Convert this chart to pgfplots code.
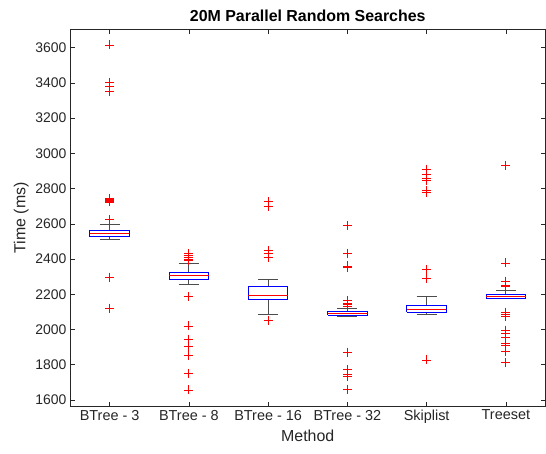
\documentclass[border=0pt]{standalone}
\usepackage{pgfplots}
\pgfplotsset{compat=1.18}
\usepackage{fontspec}
\setmainfont{Liberation Sans}
\definecolor{axgray}{rgb}{0.15,0.15,0.15}
\definecolor{mblue}{rgb}{0,0,1}
\definecolor{mred}{rgb}{1,0,0}
\pgfplotsset{
  mout/.style={color=mred, only marks, mark=+, mark size=4.5bp, mark options={draw=mred, solid, line width=0.8pt}},
}
\begin{document}
\begin{tikzpicture}
\begin{axis}[
  at={(0,0)}, anchor=south west,
  scale only axis,
  width=475.5bp, height=377.2bp,
  xmin=0.5, xmax=6.5,
  ymin=1563, ymax=3704,
  xtick={1,2,3,4,5,6},
  xticklabels={BTree - 3,BTree - 8,BTree - 16,BTree - 32,Skiplist,Treeset},
  ytick={1600,1800,...,3600},
  tick pos=both,
  tick align=inside,
  major tick length=5bp,
  axis line style={axgray, line width=0.5pt},
  every tick/.style={axgray, line width=0.5pt},
  tick label style={font=\fontsize{14}{16}\selectfont, text=axgray},
  xticklabel style={font=\fontsize{14.5}{16}\selectfont},
  /pgf/number format/assume math mode=true,
  /pgf/number format/1000 sep={},
  xlabel={Method},
  ylabel={Time (ms)},
  label style={font=\fontsize{16}{18}\selectfont, text=axgray},
  title={\textbf{20M Parallel Random Searches}},
  title style={font=\fontsize{16}{18}\selectfont, yshift=-2bp},
  unbounded coords=jump,
]
% whiskers and caps
\addplot[black!70, line width=0.8pt, mark=none] coordinates {
 (1,2561) (1,2599) (nan,nan) (0.875,2599) (1.125,2599) (nan,nan) (1,2527) (1,2510) (nan,nan) (0.875,2510) (1.125,2510) (nan,nan)
 (2,2322) (2,2373) (nan,nan) (1.875,2373) (2.125,2373) (nan,nan) (2,2286) (2,2257) (nan,nan) (1.875,2257) (2.125,2257) (nan,nan)
 (3,2242) (3,2287) (nan,nan) (2.875,2287) (3.125,2287) (nan,nan) (3,2172) (3,2085) (nan,nan) (2.875,2085) (3.125,2085) (nan,nan)
 (4,2100) (4,2119) (nan,nan) (3.875,2119) (4.125,2119) (nan,nan) (4,2081) (4,2077) (nan,nan) (3.875,2077) (4.125,2077) (nan,nan)
 (5,2138) (5,2187) (nan,nan) (4.875,2187) (5.125,2187) (nan,nan) (5,2098) (5,2085) (nan,nan) (4.875,2085) (5.125,2085) (nan,nan)
 (6,2200) (6,2221) (nan,nan) (5.875,2221) (6.125,2221) (nan,nan) (6,2178) (6,2174) (nan,nan) (5.875,2174) (6.125,2174)
};
% boxes (lower quartile, upper quartile)
\addplot[mblue, line width=1pt, mark=none] coordinates {
 (0.75,2527) (1.25,2527) (1.25,2561) (0.75,2561) (0.75,2527) (nan,nan)
 (1.75,2286) (2.25,2286) (2.25,2322) (1.75,2322) (1.75,2286) (nan,nan)
 (2.75,2172) (3.25,2172) (3.25,2242) (2.75,2242) (2.75,2172) (nan,nan)
 (3.75,2081) (4.25,2081) (4.25,2100) (3.75,2100) (3.75,2081) (nan,nan)
 (4.75,2098) (5.25,2098) (5.25,2138) (4.75,2138) (4.75,2098) (nan,nan)
 (5.75,2178) (6.25,2178) (6.25,2200) (5.75,2200) (5.75,2178)
};
% medians
\addplot[mred, line width=0.7pt, mark=none] coordinates {
 (0.75,2543) (1.25,2543) (nan,nan)
 (1.75,2305) (2.25,2305) (nan,nan)
 (2.75,2195) (3.25,2195) (nan,nan)
 (3.75,2090) (4.25,2090) (nan,nan)
 (4.75,2117) (5.25,2117) (nan,nan)
 (5.75,2189) (6.25,2189)
};
% outliers
\addplot[mout] coordinates {(1,3615) (1,3403) (1,3380) (1,3352) (1,2745) (1,2738) (1,2733) (1,2728) (1,2724) (1,2623) (1,2297) (1,2121)};
\addplot[mout] coordinates {(2,2432) (2,2420) (2,2410) (2,2400) (2,2390) (2,2187) (2,2020) (2,1945) (2,1903) (2,1854) (2,1752) (2,1657)};
\addplot[mout] coordinates {(3,2727) (3,2698) (3,2448) (3,2430) (3,2411) (3,2051)};
\addplot[mout] coordinates {(4,2589) (4,2433) (4,2361) (4,2350) (4,2164) (4,2150) (4,2140) (4,2134) (4,1871) (4,1774) (4,1745) (4,1735) (4,1661)};
\addplot[mout] coordinates {(5,2911) (5,2879) (5,2858) (5,2846) (5,2790) (5,2778) (5,2339) (5,2290) (5,1827)};
\addplot[mout] coordinates {(6,2930) (6,2378) (6,2274) (6,2250) (6,2243) (6,2099) (6,2086) (6,2076) (6,1997) (6,1978) (6,1956) (6,1921) (6,1912) (6,1874) (6,1815)};
\end{axis}
\pgfresetboundingbox
\path (-70bp,-47.5bp) rectangle (476bp,406.5bp);
\end{tikzpicture}
\end{document}
